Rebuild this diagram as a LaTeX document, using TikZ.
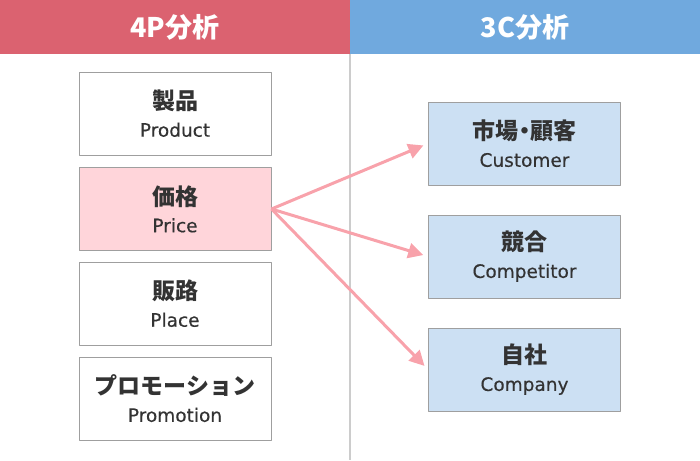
\documentclass[tikz,border=0pt]{standalone}
\usepackage{fontspec}
\setmainfont{DejaVu Sans}
\newfontfamily\jpfont{Noto Sans CJK JP}
\usetikzlibrary{arrows.meta}
\definecolor{hdred}{HTML}{DB6270}
\definecolor{hdblue}{HTML}{70A9DE}
\definecolor{pricepink}{HTML}{FFD5DA}
\definecolor{cblue}{HTML}{CCE0F3}
\definecolor{arrpink}{HTML}{F8A2AB}
\definecolor{txtgray}{HTML}{333333}
\tikzset{
  box/.style={draw=gray!75, line width=1pt, minimum width=192pt, minimum height=83pt,
    align=center, text=txtgray, font=\fontsize{18.5}{22}\selectfont\addfontfeature{FakeBold=0.4}},
  head/.style={text=white, font=\jpfont\bfseries\fontsize{27}{30}\selectfont},
  arr/.style={->, draw=arrpink, line width=3pt, shorten >=5pt}
}
\newcommand{\twoline}[2]{{\jpfont\bfseries\fontsize{23}{22}\selectfont #1}\\[5pt]#2}
\begin{document}
\begin{tikzpicture}[x=1pt,y=-1pt,>={Triangle[length=15pt,width=15pt]}, line join=round]
\useasboundingbox (0,0) rectangle (700,460);
% Kopfzeile
\fill[hdred] (0,0) rectangle (350,54);
\fill[hdblue] (350,0) rectangle (700,54);
\draw[gray!40, line width=1.5pt] (350,54)--(350,460);
\node[head] (t4p) at (175,27) {4P分析};
\node[head] (t3c) at (525,27) {3C分析};
% 4P
\node[box] (prod) at (175,113.5) {\twoline{製品}{Product}};
\node[box, fill=pricepink] (price) at (175,209) {\twoline{価格}{Price}};
\node[box] (place) at (175,303.5) {\twoline{販路}{Place}};
\node[box] (promo) at (175,398.5) {\twoline{プロモーション}{Promotion}};
% 3C
\node[box, fill=cblue] (cust) at (524.5,143.5) {\twoline{市場{\addfontfeature{RawFeature=+halt}・}顧客}{Customer}};
\node[box, fill=cblue] (comp) at (524.5,256.5) {\twoline{競合}{Competitor}};
\node[box, fill=cblue] (corp) at (524.5,369.5) {\twoline{自社}{Company}};
\draw[arr] (price.east) -- (cust.west);
\draw[arr] (price.east) -- (comp.west);
\draw[arr] (price.east) -- (corp.west);
\end{tikzpicture}
\end{document}
